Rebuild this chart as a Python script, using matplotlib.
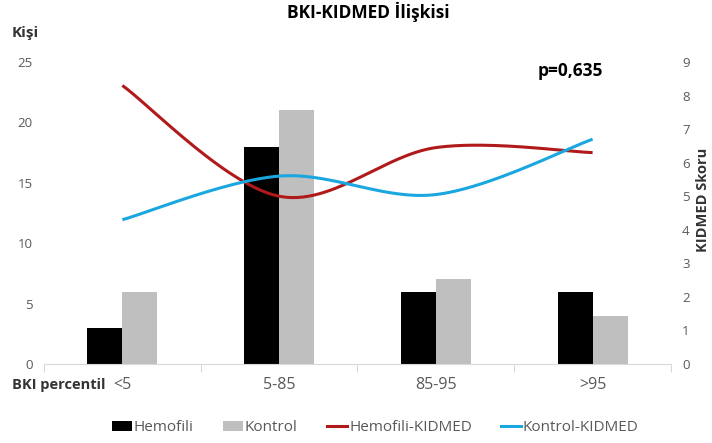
import numpy as np
import matplotlib
matplotlib.use("Agg")
import matplotlib.pyplot as plt
from matplotlib.lines import Line2D
from matplotlib.patches import Patch

plt.rcParams['font.family'] = ['Open Sans', 'DejaVu Sans']

categories = ["<5", "5-85", "85-95", ">95"]
hemofili = [3, 18, 6, 6]
kontrol = [6, 21, 7, 4]
hemofili_kidmed = [8.3, 5.0, 6.45, 6.3]
kontrol_kidmed = [4.3, 5.6, 5.05, 6.7]
left_ticks = [0, 5, 10, 15, 20, 25]
right_ticks = list(range(10))


def smooth_curve(xs, ys, n=60):
    """Catmull-Rom style Bezier smoothing through every point."""
    xs = np.asarray(xs, float)
    ys = np.asarray(ys, float)
    px = np.concatenate([[xs[0]], xs, [xs[-1]]])
    py = np.concatenate([[ys[0]], ys, [ys[-1]]])
    out_x, out_y = [], []
    t = np.linspace(0, 1, n)
    for i in range(1, len(px) - 2):
        p0 = np.array([px[i], py[i]])
        p3 = np.array([px[i + 1], py[i + 1]])
        c1 = p0 + (np.array([px[i + 1], py[i + 1]]) - np.array([px[i - 1], py[i - 1]])) / 6
        c2 = p3 - (np.array([px[i + 2], py[i + 2]]) - np.array([px[i], py[i]])) / 6
        b = ((1 - t) ** 3)[:, None] * p0 + (3 * (1 - t) ** 2 * t)[:, None] * c1 \
            + (3 * (1 - t) * t ** 2)[:, None] * c2 + (t ** 3)[:, None] * p3
        out_x.extend(b[:, 0])
        out_y.extend(b[:, 1])
    return np.array(out_x), np.array(out_y)


fig = plt.figure(figsize=(7.12, 4.43), dpi=100)
ax = fig.add_axes([0.0618, 0.1783, 0.8806, 0.6817])
ax2 = ax.twinx()

x = np.arange(len(categories))
w = 0.223
ax.bar(x - w / 2, hemofili, w, color="black", zorder=2)
ax.bar(x + w / 2, kontrol, w, color="#bfbfbf", zorder=2)

red = "#b11a1a"
blue = "#1aa7e0"
sx, sy = smooth_curve(x, hemofili_kidmed)
ax2.plot(sx, sy, color=red, lw=2.2, solid_capstyle="butt")
sx, sy = smooth_curve(x, kontrol_kidmed)
ax2.plot(sx, sy, color=blue, lw=2.2, solid_capstyle="butt")

ax.set_xlim(-0.5, 3.5)
ax.set_ylim(0, 25)
ax2.set_ylim(0, 9)
ax.set_yticks(left_ticks)
ax2.set_yticks(right_ticks)

for a in (ax, ax2):
    for s in a.spines.values():
        s.set_visible(False)
ax.spines['bottom'].set_visible(True)
ax.spines['bottom'].set_color("#d9d9d9")

ax.set_xticks([-0.5, 0.5, 1.5, 2.5, 3.5])
ax.set_xticklabels([])
ax.tick_params(axis='x', length=6, color="#d9d9d9")
ax.set_xticks(x, minor=True)
ax.set_xticklabels(categories, minor=True)
ax.tick_params(axis='x', which='minor', length=0, pad=9, labelsize=11.5, labelcolor="#595959")

ax.tick_params(axis='y', length=0, pad=8, labelsize=9.5, labelcolor="#595959")
ax2.tick_params(axis='y', length=0, pad=8, labelsize=9.5, labelcolor="#595959")

fig.text(0.517, 0.972, "BKI-KIDMED İlişkisi", ha="center", va="center",
         fontsize=12.5, fontweight="bold")
fig.text(0.017, 0.925, "Kişi", ha="left", va="center", fontsize=11, fontweight="bold",
         color="#333333")
fig.text(0.988, 0.548, "KIDMED Skoru", ha="center", va="center", rotation=90,
         fontsize=10.5, fontweight="bold", color="#333333")
fig.text(0.755, 0.84, "p=0,635", ha="left", va="center", fontsize=12.5, fontweight="bold")
fig.text(0.017, 0.13, "BKI percentil", ha="left", va="center", fontsize=10.5,
         fontweight="bold", color="#333333")

handles = [
    Patch(facecolor="black"),
    Patch(facecolor="#bfbfbf"),
    Line2D([0], [0], color=red, lw=2.2),
    Line2D([0], [0], color=blue, lw=2.2),
]
labels = ["Hemofili", "Kontrol", "Hemofili-KIDMED", "Kontrol-KIDMED"]
leg = fig.legend(handles, labels, loc="center", bbox_to_anchor=(0.527, 0.034), ncol=4,
                 frameon=False, fontsize=11, handlelength=1.3, handletextpad=0.15,
                 columnspacing=1.9)
for t in leg.get_texts():
    t.set_color("#595959")

fig.savefig("out.png", dpi=100)
